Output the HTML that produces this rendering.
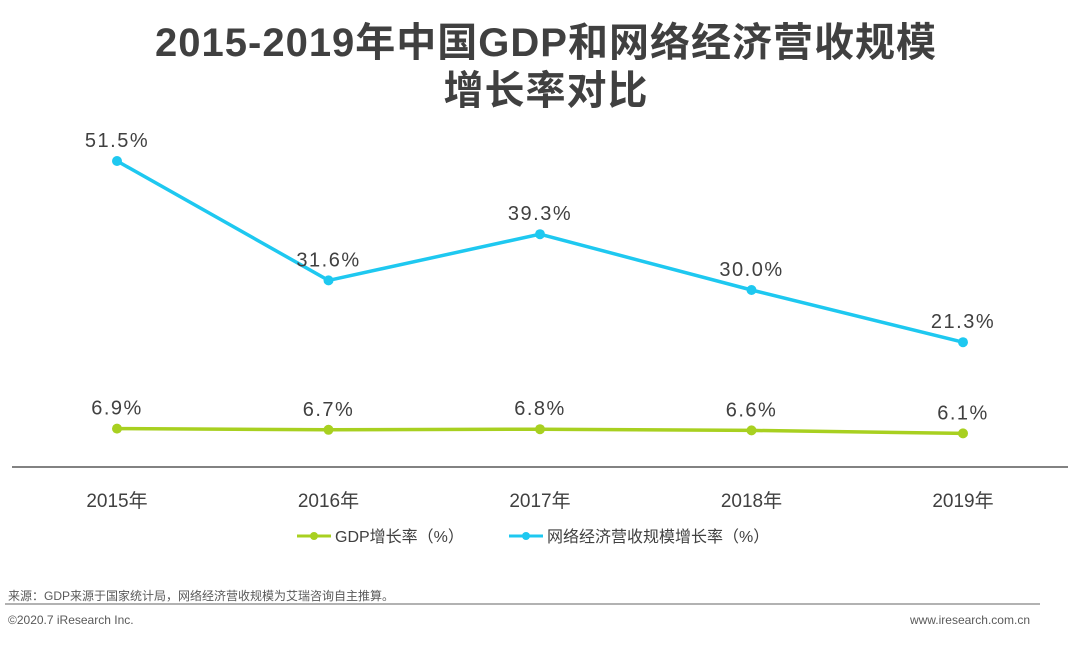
<!DOCTYPE html>
<html><head><meta charset="utf-8"><style>
body{margin:0;width:1080px;height:640px;background:#fff;overflow:hidden;font-family:"Liberation Sans","Noto Sans CJK SC",sans-serif;}
svg text{font-family:"Liberation Sans","Noto Sans CJK SC",sans-serif;}
</style></head><body>
<svg id="chart" width="1080" height="640">
<text x="546" y="56" text-anchor="middle" font-size="40" font-weight="bold" fill="#404040" letter-spacing="1">2015-2019年中国GDP和网络经济营收规模</text>
<text x="546" y="104" text-anchor="middle" font-size="40" font-weight="bold" fill="#404040" letter-spacing="1">增长率对比</text>
<line x1="12" y1="467" x2="1068" y2="467" stroke="#595959" stroke-width="1.5"/>
<g id="xt"></g><g id="series"></g>
<g>
<line x1="297" y1="536" x2="331" y2="536" stroke="#a8d020" stroke-width="3"/>
<circle cx="314" cy="536" r="4" fill="#a8d020"/>
<text x="335" y="542" font-size="16" fill="#404040">GDP增长率（%）</text>
<line x1="509" y1="536" x2="543" y2="536" stroke="#1ec8f0" stroke-width="3"/>
<circle cx="526" cy="536" r="4" fill="#1ec8f0"/>
<text x="547" y="542" font-size="16" fill="#404040">网络经济营收规模增长率（%）</text>
</g>
<text x="8" y="600" font-size="12" fill="#595959">来源：GDP来源于国家统计局，网络经济营收规模为艾瑞咨询自主推算。</text>
<line x1="5" y1="604" x2="1040" y2="604" stroke="#999" stroke-width="1.5"/>
<text x="8" y="624" font-size="12" fill="#595959">©2020.7 iResearch Inc.</text>
<text x="1030" y="624" text-anchor="end" font-size="12" fill="#595959">www.iresearch.com.cn</text>
</svg>
<script>
const categories=["2015年","2016年","2017年","2018年","2019年"];
const gdpValues=[6.9,6.7,6.8,6.6,6.1];
const netValues=[51.5,31.6,39.3,30.0,21.3];
const NS="http://www.w3.org/2000/svg";
function xPos(i){return 117+i*211.5;}
function yPos(v){return 470-v*6;}
function mk(tag,attrs,parent){const e=document.createElementNS(NS,tag);for(const k in attrs)e.setAttribute(k,attrs[k]);parent.appendChild(e);return e;}
const xt=document.getElementById('xt');
categories.forEach((c,i)=>{const t=mk('text',{x:xPos(i),y:507,'text-anchor':'middle','font-size':19,fill:'#404040'},xt);t.textContent=c;

});
const sg=document.getElementById('series');
function drawSeries(vals,color,name){
const pts=vals.map((v,i)=>xPos(i)+','+yPos(v)).join(' ');
const pl=mk('polyline',{points:pts,fill:'none',stroke:color,'stroke-width':3.5},sg);


vals.forEach((v,i)=>{const c=mk('circle',{cx:xPos(i),cy:yPos(v),r:5,fill:color},sg);


const t=mk('text',{x:xPos(i),y:yPos(v)-14,'text-anchor':'middle','font-size':20,'letter-spacing':1.5,fill:'#404040'},sg);
t.textContent=v.toFixed(1)+'%';

});
}
drawSeries(gdpValues,'#a8d020','gdp');
drawSeries(netValues,'#1ec8f0','net');
</script>
</body></html>
